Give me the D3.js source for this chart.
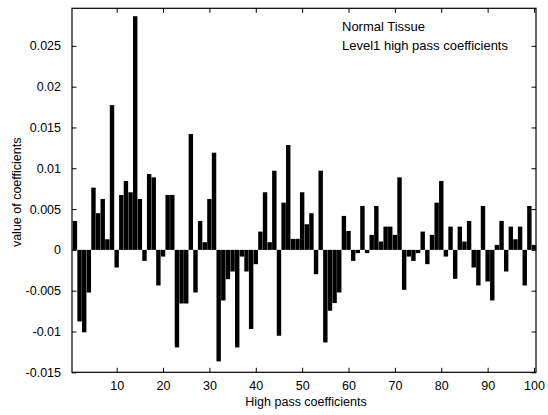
<!DOCTYPE html>
<html><head><meta charset="utf-8">
<script src="https://cdn.jsdelivr.net/npm/d3@7"></script>
<style>
html,body{margin:0;padding:0;background:#fff;}
svg{display:block;}
text{font-family:"Liberation Sans",Arial,Helvetica,sans-serif;fill:#000;}
</style></head>
<body>
<script>
const categories = d3.range(1, 101);
const values = [
  0.00355, -0.00877, -0.0101, -0.00522, 0.00763, 0.00449, 0.00624, 0.0013, 0.01774, -0.00216,
  0.00673, 0.00844, 0.00706, 0.02863, 0.00624, -0.00135, 0.0093, 0.00889, -0.00436, -0.00082,
  0.00673, 0.00673, -0.01195, -0.00657, -0.00657, 0.01419, -0.00522, 0.00355, 0.00094, 0.00624,
  0.01191, -0.01366, -0.0062, -0.00359, -0.00265, -0.01195, -0.00082, -0.00265, -0.0097, -0.00175,
  0.00224, 0.00706, 0.00094, 0.0097, -0.01052, 0.00579, 0.01285, 0.00135, 0.00135, 0.00706,
  0.00314, 0.00449, -0.00298, 0.0097, -0.01134, -0.00746, -0.00652, -0.00522, 0.00416, 0.00232,
  -0.00135, -0.0004, 0.00538, -0.0004, 0.00184, 0.00538, 0.00102, 0.00285, 0.00285, 0.00184,
  0.00889, -0.00489, -0.00082, -0.00135, -0.0004, 0.00224, -0.00175, 0.00184, 0.00579, 0.00844,
  -0.00082, 0.00285, -0.00355, 0.00285, 0.00102, 0.00355, -0.00216, -0.00436, 0.00538, -0.00387,
  -0.0062, 0.00061, 0.00355, -0.00265, 0.00285, 0.0013, 0.00285, -0.00436, 0.00538, 0.00061
];
const xTicks = [10, 20, 30, 40, 50, 60, 70, 80, 90, 100];
const yTicks = [-0.015, -0.01, -0.005, 0, 0.005, 0.01, 0.015, 0.02, 0.025];
const yTickLabels = ["-0.015", "-0.01", "-0.005", "0", "0.005", "0.01", "0.015", "0.02", "0.025"];
const annotation = ["Normal Tissue", "Level1 high pass coefficients"];
const xLabel = "High pass coefficients";
const yLabel = "value of coefficients";

const W = 548, H = 415;
const L = 72, R = 536, T = 8.3, B = 372.3;
const svg = d3.select("body").append("svg").attr("width", W).attr("height", H);

const x = d3.scaleLinear().domain([0.37, 100.43]).range([L, R]);
const y = d3.scaleLinear().domain([-0.015, 0.0296]).range([B, T]);
const unit = x(1) - x(0);
const bw = unit * 0.95;

svg.append("g").selectAll("rect").data(values).join("rect")
  .attr("x", (d, i) => x(categories[i]) - bw / 2)
  .attr("width", bw)
  .attr("y", d => Math.min(y(d), y(0)))
  .attr("height", d => Math.abs(y(d) - y(0)))
  .attr("fill", "#000");

const tickLen = 4.5;
const fs = 12.5;
// bottom axis
const gx = svg.append("g").attr("transform", `translate(0,${B})`)
  .call(d3.axisBottom(x).tickValues(xTicks).tickSizeInner(-tickLen).tickSizeOuter(0).tickPadding(9));
gx.select(".domain").remove();
gx.selectAll("text").style("font-size", fs + "px").style("font-family", "Liberation Sans, Arial, sans-serif");
// top axis ticks
const gxt = svg.append("g").attr("transform", `translate(0,${T})`)
  .call(d3.axisTop(x).tickValues(xTicks).tickSizeInner(-tickLen).tickSizeOuter(0).tickFormat(""));
gxt.select(".domain").remove();
// left axis
const gy = svg.append("g").attr("transform", `translate(${L},0)`)
  .call(d3.axisLeft(y).tickValues(yTicks).tickSizeInner(-tickLen).tickSizeOuter(0)
    .tickFormat((d, i) => yTickLabels[i]).tickPadding(11));
gy.select(".domain").remove();
gy.selectAll("text").style("font-size", fs + "px").style("font-family", "Liberation Sans, Arial, sans-serif");
// right axis ticks
const gyr = svg.append("g").attr("transform", `translate(${R},0)`)
  .call(d3.axisRight(y).tickValues(yTicks).tickSizeInner(-tickLen).tickSizeOuter(0).tickFormat(""));
gyr.select(".domain").remove();
svg.selectAll(".tick line").attr("stroke", "#000").attr("stroke-width", 1);

// frame
svg.append("rect").attr("x", L).attr("y", T).attr("width", R - L).attr("height", B - T)
  .attr("fill", "none").attr("stroke", "#000").attr("stroke-width", 1.2);

// annotation
svg.selectAll("text.ann").data(annotation).join("text").attr("class", "ann")
  .attr("x", 342).attr("y", (d, i) => 31 + i * 19)
  .style("font-size", "13px").text(d => d);

svg.append("text").attr("x", (L + R) / 2 + 2).attr("y", 406).attr("text-anchor", "middle")
  .style("font-size", fs + "px").text(xLabel);
svg.append("text").attr("transform", `translate(20.5,${(T + B) / 2 + 2}) rotate(-90)`)
  .attr("text-anchor", "middle").style("font-size", fs + "px").text(yLabel);
svg.append("text").attr("x", 26).attr("y", 424).style("font-size", "13px").text("(b)");
</script>
</body></html>
